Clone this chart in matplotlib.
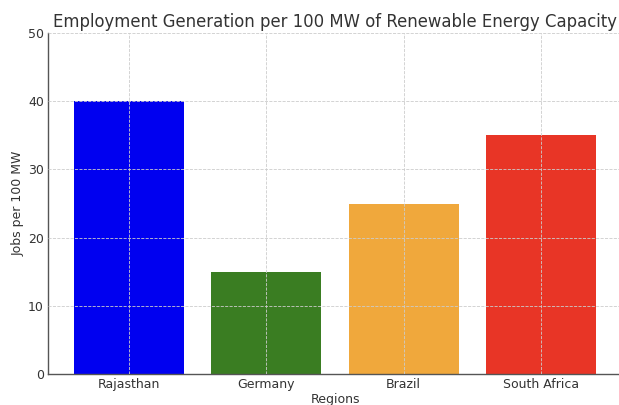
import matplotlib
matplotlib.use("Agg")
import matplotlib.pyplot as plt

regions = ["Rajasthan", "Germany", "Brazil", "South Africa"]
jobs_per_100mw = [40, 15, 25, 35]
bar_colors = ["#0000f0", "#3a7d22", "#f0a83c", "#e83526"]
y_ticks = [0, 10, 20, 30, 40, 50]

fig = plt.figure(figsize=(6.19, 4.05), dpi=100)
ax = fig.add_axes([48 / 619, 1 - 374 / 405, (622 - 48) / 619, (374 - 33) / 405])

ax.bar(regions, jobs_per_100mw, color=bar_colors, width=0.8, zorder=2)
ax.set_ylim(0, 50)
ax.set_yticks(y_ticks)
ax.set_xlim(-0.59, 3.59)

ax.grid(True, linestyle="--", linewidth=0.6, color="#cccccc", zorder=3)
ax.set_axisbelow(False)

for side in ("top", "right"):
    ax.spines[side].set_visible(False)
for side in ("left", "bottom"):
    ax.spines[side].set_color("#555555")
    ax.spines[side].set_linewidth(1.0)

ax.tick_params(colors="#333333", labelsize=9, length=0, pad=3)
ax.set_title("Employment Generation per 100 MW of Renewable Energy Capacity",
             fontsize=11.9, color="#333333", pad=4)
ax.set_xlabel("Regions", fontsize=9, color="#333333", labelpad=1)
ax.set_ylabel("Jobs per 100 MW", fontsize=9, color="#333333", labelpad=2)

fig.savefig("out.png", dpi=100)
